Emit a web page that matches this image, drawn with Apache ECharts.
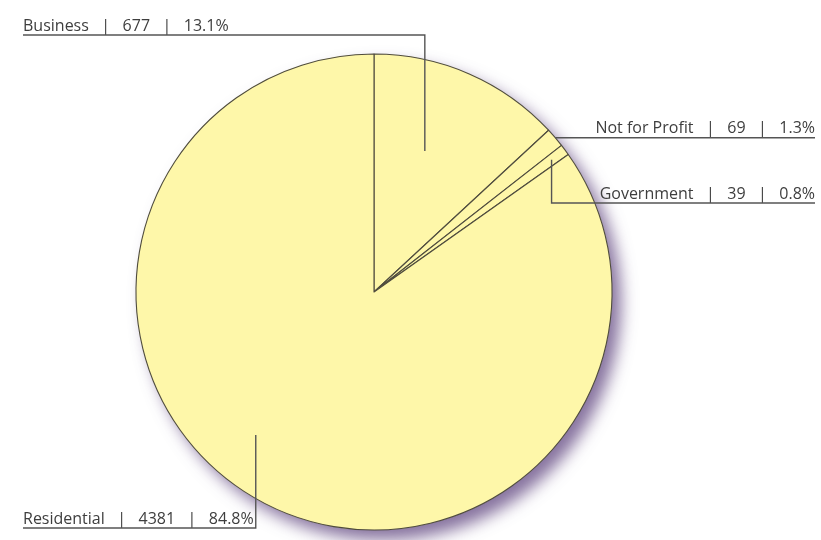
<!DOCTYPE html>
<html>
<head>
<meta charset="utf-8">
<script src="https://cdn.jsdelivr.net/npm/echarts@6/dist/echarts.min.js"></script>
<style>
  html, body { margin: 0; padding: 0; background: #ffffff; }
  #chart { width: 821px; height: 540px; }
</style>
</head>
<body>
<div id="chart"></div>
<script>
// Customer categories and counts
const categories = ['Business', 'Not for Profit', 'Government', 'Residential'];
const counts = [677, 69, 39, 4381];

// Pie geometry (pixels)
const CENTER = [374, 292];
const RADIUS = 238;

// Leader-line layout per slice:
// at: position of the anchor inside the slice (fraction of the slice's sweep, fraction of radius)
// side: which side the label sits on; lineY: y of the underline (null = anchor's own y)
const leaders = [
  { at: [0.42, 0.63], side: 'left',  lineY: 35 },
  { at: [0.50, 1.00], side: 'right', lineY: null },
  { at: [0.50, 0.93], side: 'right', lineY: 203 },
  { at: [0.54, 0.78], side: 'left',  lineY: 528 }
];
const LEFT_X = 23;
const RIGHT_X = 815;

const total = counts.reduce((a, b) => a + b, 0);

// anchor point for slice i, in pixels (pie starts at 12 o'clock, runs clockwise)
function anchorOf(i) {
  let before = 0;
  for (let k = 0; k < i; k++) before += counts[k];
  const a0 = before / total * 360;
  const sweep = counts[i] / total * 360;
  const deg = a0 + sweep * leaders[i].at[0];
  const r = RADIUS * leaders[i].at[1];
  const rad = deg * Math.PI / 180;
  return [CENTER[0] + r * Math.sin(rad), CENTER[1] - r * Math.cos(rad)];
}

// elbow leader: anchor -> vertical to the underline -> along the underline to the label's far end
function leaderPoints(i) {
  const L = leaders[i];
  const A = anchorOf(i);
  const endX = L.side === 'left' ? LEFT_X : RIGHT_X;
  if (L.lineY == null) return [[A[0], A[1]], [endX, A[1]]];
  return [[A[0], A[1]], [A[0], L.lineY], [endX, L.lineY]];
}
function underlineY(i) {
  return leaders[i].lineY == null ? anchorOf(i)[1] : leaders[i].lineY;
}

const chart = echarts.init(document.getElementById('chart'), null, { renderer: 'canvas' });

const FILL = '#fef7a9';

chart.setOption({
  backgroundColor: '#ffffff',
  animation: false,
  graphic: categories.map((c, i) => ({
    type: 'polyline',
    z: 100,
    silent: true,
    shape: { points: leaderPoints(i) },
    style: { stroke: '#555555', lineWidth: 1.4, fill: null }
  })),
  series: [
    {
      // soft drop shadow beneath the pie
      type: 'pie',
      silent: true,
      center: CENTER,
      radius: RADIUS,
      z: 1,
      label: { show: false },
      labelLine: { show: false },
      itemStyle: {
        color: FILL,
        shadowBlur: 16,
        shadowOffsetX: 9,
        shadowOffsetY: 10,
        shadowColor: 'rgba(105, 80, 135, 0.8)'
      },
      data: [{ value: 1, name: '' }]
    },
    {
      type: 'pie',
      center: CENTER,
      radius: RADIUS,
      startAngle: 90,
      clockwise: true,
      z: 2,
      percentPrecision: 1,
      avoidLabelOverlap: false,
      itemStyle: {
        color: FILL,
        borderColor: '#4f4c3e',
        borderWidth: 1.1
      },
      label: {
        show: true,
        position: 'outside',
        formatter: p => p.name + '   |   ' + p.value + '   |   ' + p.percent.toFixed(1) + '%',
        fontFamily: '"Open Sans", sans-serif',
        fontSize: 16,
        color: '#3e3e3e'
      },
      labelLine: { show: false },
      labelLayout: function (params) {
        const i = params.dataIndex;
        const L = leaders[i];
        return {
          x: L.side === 'left' ? LEFT_X : RIGHT_X,
          y: underlineY(i) - 1,
          align: L.side,
          verticalAlign: 'bottom'
        };
      },
      data: categories.map((c, i) => ({ name: c, value: counts[i] }))
    }
  ]
});
</script>
</body>
</html>
